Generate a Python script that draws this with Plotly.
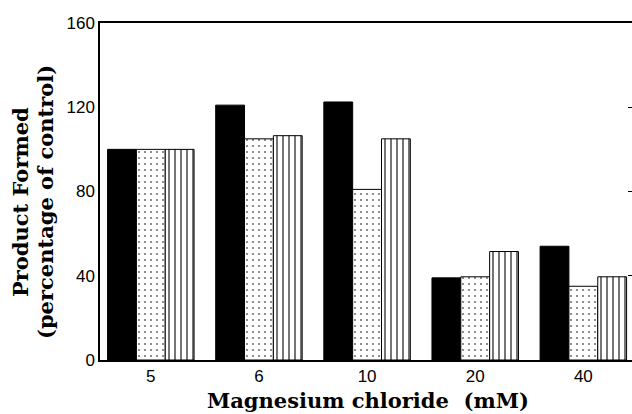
import plotly.graph_objects as go

categories = ["5", "6", "10", "20", "40"]
series_a = [100, 121, 122.5, 39, 54]      # solid black
series_b = [100, 105, 81, 39.5, 35]       # dotted
series_c = [100, 106.5, 105, 51.5, 39.5]  # vertical stripes
y_ticks = [0, 40, 80, 120, 160]

W, H = 632, 414
L, R, T, B = 100, 0, 23, 54
pw = W - L - R
ph = H - T - B

def px_x(p):
    return (p - L) / pw

def px_y(p):
    return (H - B - p) / ph

tick_font = dict(family="Liberation Sans, Arial", size=17, color="black")
title_font = dict(family="DejaVu Serif, serif", size=21, color="black")

fig = go.Figure()
fig.add_trace(go.Bar(x=categories, y=series_a, name="A",
                     marker=dict(color="black", line=dict(color="black", width=1))))
fig.add_trace(go.Bar(x=categories, y=series_b, name="B",
                     marker=dict(color="white", line=dict(color="black", width=1),
                                 pattern=dict(shape=".", fgcolor="black", bgcolor="white",
                                              size=6, solidity=0.06, fillmode="replace"))))
fig.add_trace(go.Bar(x=categories, y=series_c, name="C",
                     marker=dict(color="white", line=dict(color="black", width=1),
                                 pattern=dict(shape="|", fgcolor="black", bgcolor="white",
                                              size=6, solidity=0.18, fillmode="replace"))))
# invisible trace to anchor the right-side tick axis
fig.add_trace(go.Scatter(x=[categories[0]], y=[0], yaxis="y2", mode="markers",
                         marker=dict(opacity=0), showlegend=False, hoverinfo="skip"))

fig.update_layout(
    width=W, height=H,
    margin=dict(l=L, r=R, t=T, b=B),
    paper_bgcolor="white", plot_bgcolor="white",
    barmode="group", bargap=0.2, bargroupgap=0,
    showlegend=False,
    xaxis=dict(type="category", range=[-0.47, 4.45], showline=True, mirror=True,
               linecolor="black", linewidth=1.5, ticks="", showgrid=False,
               tickfont=tick_font),
    yaxis=dict(range=[0, 160], tickvals=y_ticks, showline=True, linecolor="black",
               linewidth=1.5, ticks="", showgrid=False, zeroline=False,
               tickfont=tick_font),
    yaxis2=dict(range=[0, 160], overlaying="y", side="right", tickvals=[40, 80, 120],
                ticks="inside", ticklen=4, tickcolor="black", tickwidth=1,
                showticklabels=False, showline=False, showgrid=False, zeroline=False),
    annotations=[
        dict(text="<b>Product Formed</b>", xref="paper", yref="paper",
             x=px_x(20), y=px_y(202), textangle=-90, showarrow=False,
             xanchor="center", yanchor="middle", font=title_font),
        dict(text="<b>(percentage of control)</b>", xref="paper", yref="paper",
             x=px_x(45), y=px_y(202), textangle=-90, showarrow=False,
             xanchor="center", yanchor="middle", font=title_font),
        dict(text="<b>Magnesium chloride  (mM)</b>", xref="paper", yref="paper",
             x=px_x(368), y=px_y(400), showarrow=False,
             xanchor="center", yanchor="middle", font=title_font),
    ],
)

fig.write_html("out.html")
